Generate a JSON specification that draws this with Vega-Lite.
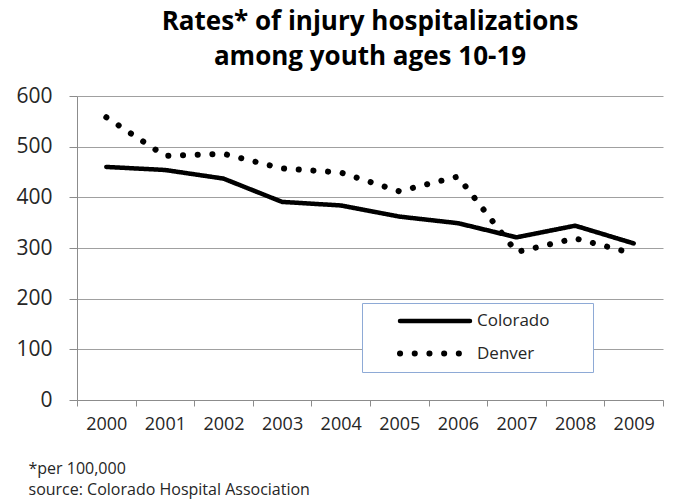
{
  "$schema": "https://vega.github.io/schema/vega-lite/v6.json",
  "width": 586,
  "height": 304,
  "autosize": {"type": "none"},
  "padding": {"left": 77, "top": 96, "right": 10, "bottom": 104},
  "background": "#ffffff",
  "config": {"view": {"stroke": null}},
  "title": {
    "text": ["Rates* of injury hospitalizations", "among youth ages 10-19"],
    "font": "Open Sans",
    "fontSize": 26,
    "fontWeight": "bold",
    "color": "#000000",
    "anchor": "middle",
    "frame": "group",
    "lineHeight": 35,
    "offset": 15
  },
  "data": {
    "values": [
      {"year": "2000", "region": "Colorado", "rate": 460},
      {"year": "2001", "region": "Colorado", "rate": 454},
      {"year": "2002", "region": "Colorado", "rate": 437},
      {"year": "2003", "region": "Colorado", "rate": 391},
      {"year": "2004", "region": "Colorado", "rate": 384},
      {"year": "2005", "region": "Colorado", "rate": 362},
      {"year": "2006", "region": "Colorado", "rate": 349},
      {"year": "2007", "region": "Colorado", "rate": 321},
      {"year": "2008", "region": "Colorado", "rate": 344},
      {"year": "2009", "region": "Colorado", "rate": 309},
      {"year": "2000", "region": "Denver", "rate": 558},
      {"year": "2001", "region": "Denver", "rate": 482},
      {"year": "2002", "region": "Denver", "rate": 486},
      {"year": "2003", "region": "Denver", "rate": 457},
      {"year": "2004", "region": "Denver", "rate": 449},
      {"year": "2005", "region": "Denver", "rate": 412},
      {"year": "2006", "region": "Denver", "rate": 441},
      {"year": "2007", "region": "Denver", "rate": 292},
      {"year": "2008", "region": "Denver", "rate": 319},
      {"year": "2009", "region": "Denver", "rate": 289}
    ]
  },
  "mark": {"type": "line", "color": "#000000", "strokeCap": "round", "strokeJoin": "round"},
  "encoding": {
    "x": {
      "field": "year",
      "type": "ordinal",
      "scale": {"type": "band", "paddingInner": 0, "paddingOuter": 0},
      "axis": {
        "labelAngle": 0,
        "labelFont": "Open Sans",
        "labelFontSize": 18,
        "labelColor": "#262626",
        "labelPadding": 9,
        "tickSize": 6,
        "tickColor": "#8c8c8c",
        "domainColor": "#8c8c8c",
        "tickBand": "extent",
        "grid": false,
        "title": ["*per 100,000", "source: Colorado Hospital Association"],
        "titleFont": "Open Sans",
        "titleFontSize": 16,
        "titleFontWeight": "normal",
        "titleColor": "#262626",
        "titleAnchor": "start",
        "titleAlign": "left",
        "titleBaseline": "alphabetic",
        "titleX": -49,
        "titleY": 73,
        "titleLineHeight": 21
      }
    },
    "y": {
      "field": "rate",
      "type": "quantitative",
      "scale": {"domain": [0, 600], "nice": false},
      "axis": {
        "values": [0, 100, 200, 300, 400, 500, 600],
        "title": null,
        "labelFont": "Open Sans",
        "labelFontSize": 21,
        "labelColor": "#262626",
        "labelPadding": 17,
        "tickSize": 8,
        "tickColor": "#8c8c8c",
        "domainColor": "#8c8c8c",
        "grid": true,
        "gridColor": "#a0a0a0"
      }
    },
    "strokeDash": {
      "field": "region",
      "type": "nominal",
      "scale": {"domain": ["Colorado", "Denver"], "range": [[1, 0], [0.1, 14.6]]},
      "legend": {
        "orient": "none",
        "legendX": 285,
        "legendY": 207,
        "title": null,
        "direction": "vertical",
        "symbolType": "stroke",
        "symbolSize": 4900,
        "symbolStrokeColor": "#000000",
        "symbolOffset": 27,
        "labelFont": "Open Sans",
        "labelFontSize": 17,
        "labelColor": "#262626",
        "labelOffset": 4,
        "labelLimit": 300,
        "labelExpr": "datum.label + '        \u200b'",
        "rowPadding": 12.6,
        "clipHeight": 20,
        "padding": 8,
        "strokeColor": "#8eaad6",
        "fillColor": "#ffffff",
        "encode": {"symbols": {"update": {"strokeCap": {"value": "round"}}}}
      }
    },
    "strokeWidth": {
      "field": "region",
      "type": "nominal",
      "scale": {"domain": ["Colorado", "Denver"], "range": [4.5, 6]},
      "legend": {
        "orient": "none",
        "legendX": 285,
        "legendY": 207,
        "title": null,
        "direction": "vertical",
        "symbolType": "stroke",
        "symbolSize": 4900,
        "symbolStrokeColor": "#000000",
        "symbolOffset": 27,
        "labelFont": "Open Sans",
        "labelFontSize": 17,
        "labelColor": "#262626",
        "labelOffset": 4,
        "labelLimit": 300,
        "labelExpr": "datum.label + '        \u200b'",
        "rowPadding": 12.6,
        "clipHeight": 20,
        "padding": 8,
        "strokeColor": "#8eaad6",
        "fillColor": "#ffffff",
        "encode": {"symbols": {"update": {"strokeCap": {"value": "round"}}}}
      }
    }
  }
}
